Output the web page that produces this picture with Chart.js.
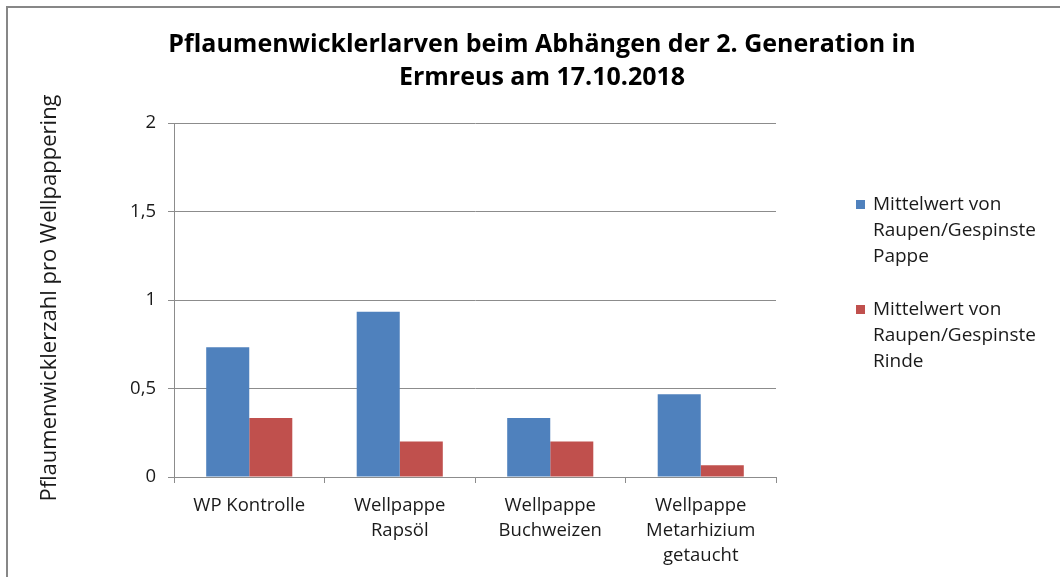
<!DOCTYPE html>
<html>
<head>
<meta charset="utf-8">
<script src="https://cdn.jsdelivr.net/npm/chart.js@4/dist/chart.umd.min.js"></script>
<style>
  html, body { margin: 0; padding: 0; background: #ffffff; }
  #wrap { position: relative; width: 1060px; height: 577px; }
</style>
</head>
<body>
<div id="wrap"><canvas id="c" width="1060" height="577"></canvas></div>
<script>
const titleLines = ["Pflaumenwicklerlarven beim Abhängen der 2. Generation in", "Ermreus am 17.10.2018"];
const yAxisTitle = "Pflaumenwicklerzahl pro Wellpappering";
const categories = [["WP Kontrolle"], ["Wellpappe", "Rapsöl"], ["Wellpappe", "Buchweizen"], ["Wellpappe", "Metarhizium", "getaucht"]];
const seriesNames = [["Mittelwert von", "Raupen/Gespinste", "Pappe"], ["Mittelwert von", "Raupen/Gespinste", "Rinde"]];
const pappeValues = [0.733, 0.933, 0.333, 0.467];
const rindeValues = [0.333, 0.2, 0.2, 0.067];
const yTickValues = [0, 0.5, 1, 1.5, 2];

const FONT = "'Open Sans', 'DejaVu Sans', sans-serif";
const TEXT = '#1a1a1a';
const GRID = '#8c8c8c';

const decorPlugin = {
  id: 'decor',
  afterDraw(chart) {
    const ctx = chart.ctx;
    const area = chart.chartArea;
    ctx.save();
    // partial frame (top & left)
    ctx.strokeStyle = '#878787';
    ctx.lineWidth = 2;
    ctx.beginPath();
    ctx.moveTo(7, 577);
    ctx.lineTo(7, 7);
    ctx.lineTo(1060, 7);
    ctx.stroke();

    // title
    ctx.fillStyle = '#000';
    ctx.textAlign = 'center';
    ctx.textBaseline = 'middle';
    ctx.font = "bold 25px " + FONT;
    titleLines.forEach((t, i) => ctx.fillText(t, 542, 45 + i * 33));

    // y axis title
    ctx.save();
    ctx.translate(50, 298);
    ctx.rotate(-Math.PI / 2);
    ctx.font = "22px " + FONT;
    ctx.fillStyle = TEXT;
    ctx.fillText(yAxisTitle, 0, 0);
    ctx.restore();

    // legend
    ctx.textAlign = 'left';
    ctx.font = "19px " + FONT;
    const startY = [205, 310];
    chart.data.datasets.forEach((ds, i) => {
      const y0 = startY[i];
      ctx.fillStyle = ds.backgroundColor;
      ctx.fillRect(856, y0 - 5, 9, 9);
      ctx.fillStyle = TEXT;
      ds.legendLines.forEach((ln, j) => ctx.fillText(ln, 873, y0 + j * 26));
    });
    ctx.restore();
  }
};

new Chart(document.getElementById('c'), {
  type: 'bar',
  data: {
    labels: categories,
    datasets: [
      { label: seriesNames[0].join(' '), legendLines: seriesNames[0], data: pappeValues, backgroundColor: '#4F81BD' },
      { label: seriesNames[1].join(' '), legendLines: seriesNames[1], data: rindeValues, backgroundColor: '#C0504D' }
    ]
  },
  options: {
    responsive: false,
    animation: false,
    devicePixelRatio: 1,
    layout: { padding: { top: 123, right: 284, bottom: 0, left: 0 } },
    datasets: { bar: { categoryPercentage: 0.572, barPercentage: 1.0 } },
    plugins: {
      legend: { display: false },
      title: { display: false },
      tooltip: { enabled: false }
    },
    scales: {
      x: {
        afterFit(s) { s.height = 100; },
        grid: { drawOnChartArea: false, drawTicks: true, tickLength: 6, color: GRID, offset: true },
        border: { color: GRID, width: 1 },
        ticks: { color: TEXT, font: { family: FONT, size: 18.5, lineHeight: 1.35 }, padding: 10, maxRotation: 0, autoSkip: false }
      },
      y: {
        min: 0,
        max: 2,
        afterFit(s) { s.width = 174; },
        afterBuildTicks(s) { s.ticks = yTickValues.map(v => ({ value: v })); },
        grid: { color: GRID, tickLength: 6, drawTicks: true },
        border: { color: GRID, width: 1 },
        ticks: {
          color: TEXT,
          font: { family: FONT, size: 18.5 },
          padding: 12,
          callback: v => String(v).replace('.', ',')
        }
      }
    }
  },
  plugins: [decorPlugin]
});
</script>
</body>
</html>
